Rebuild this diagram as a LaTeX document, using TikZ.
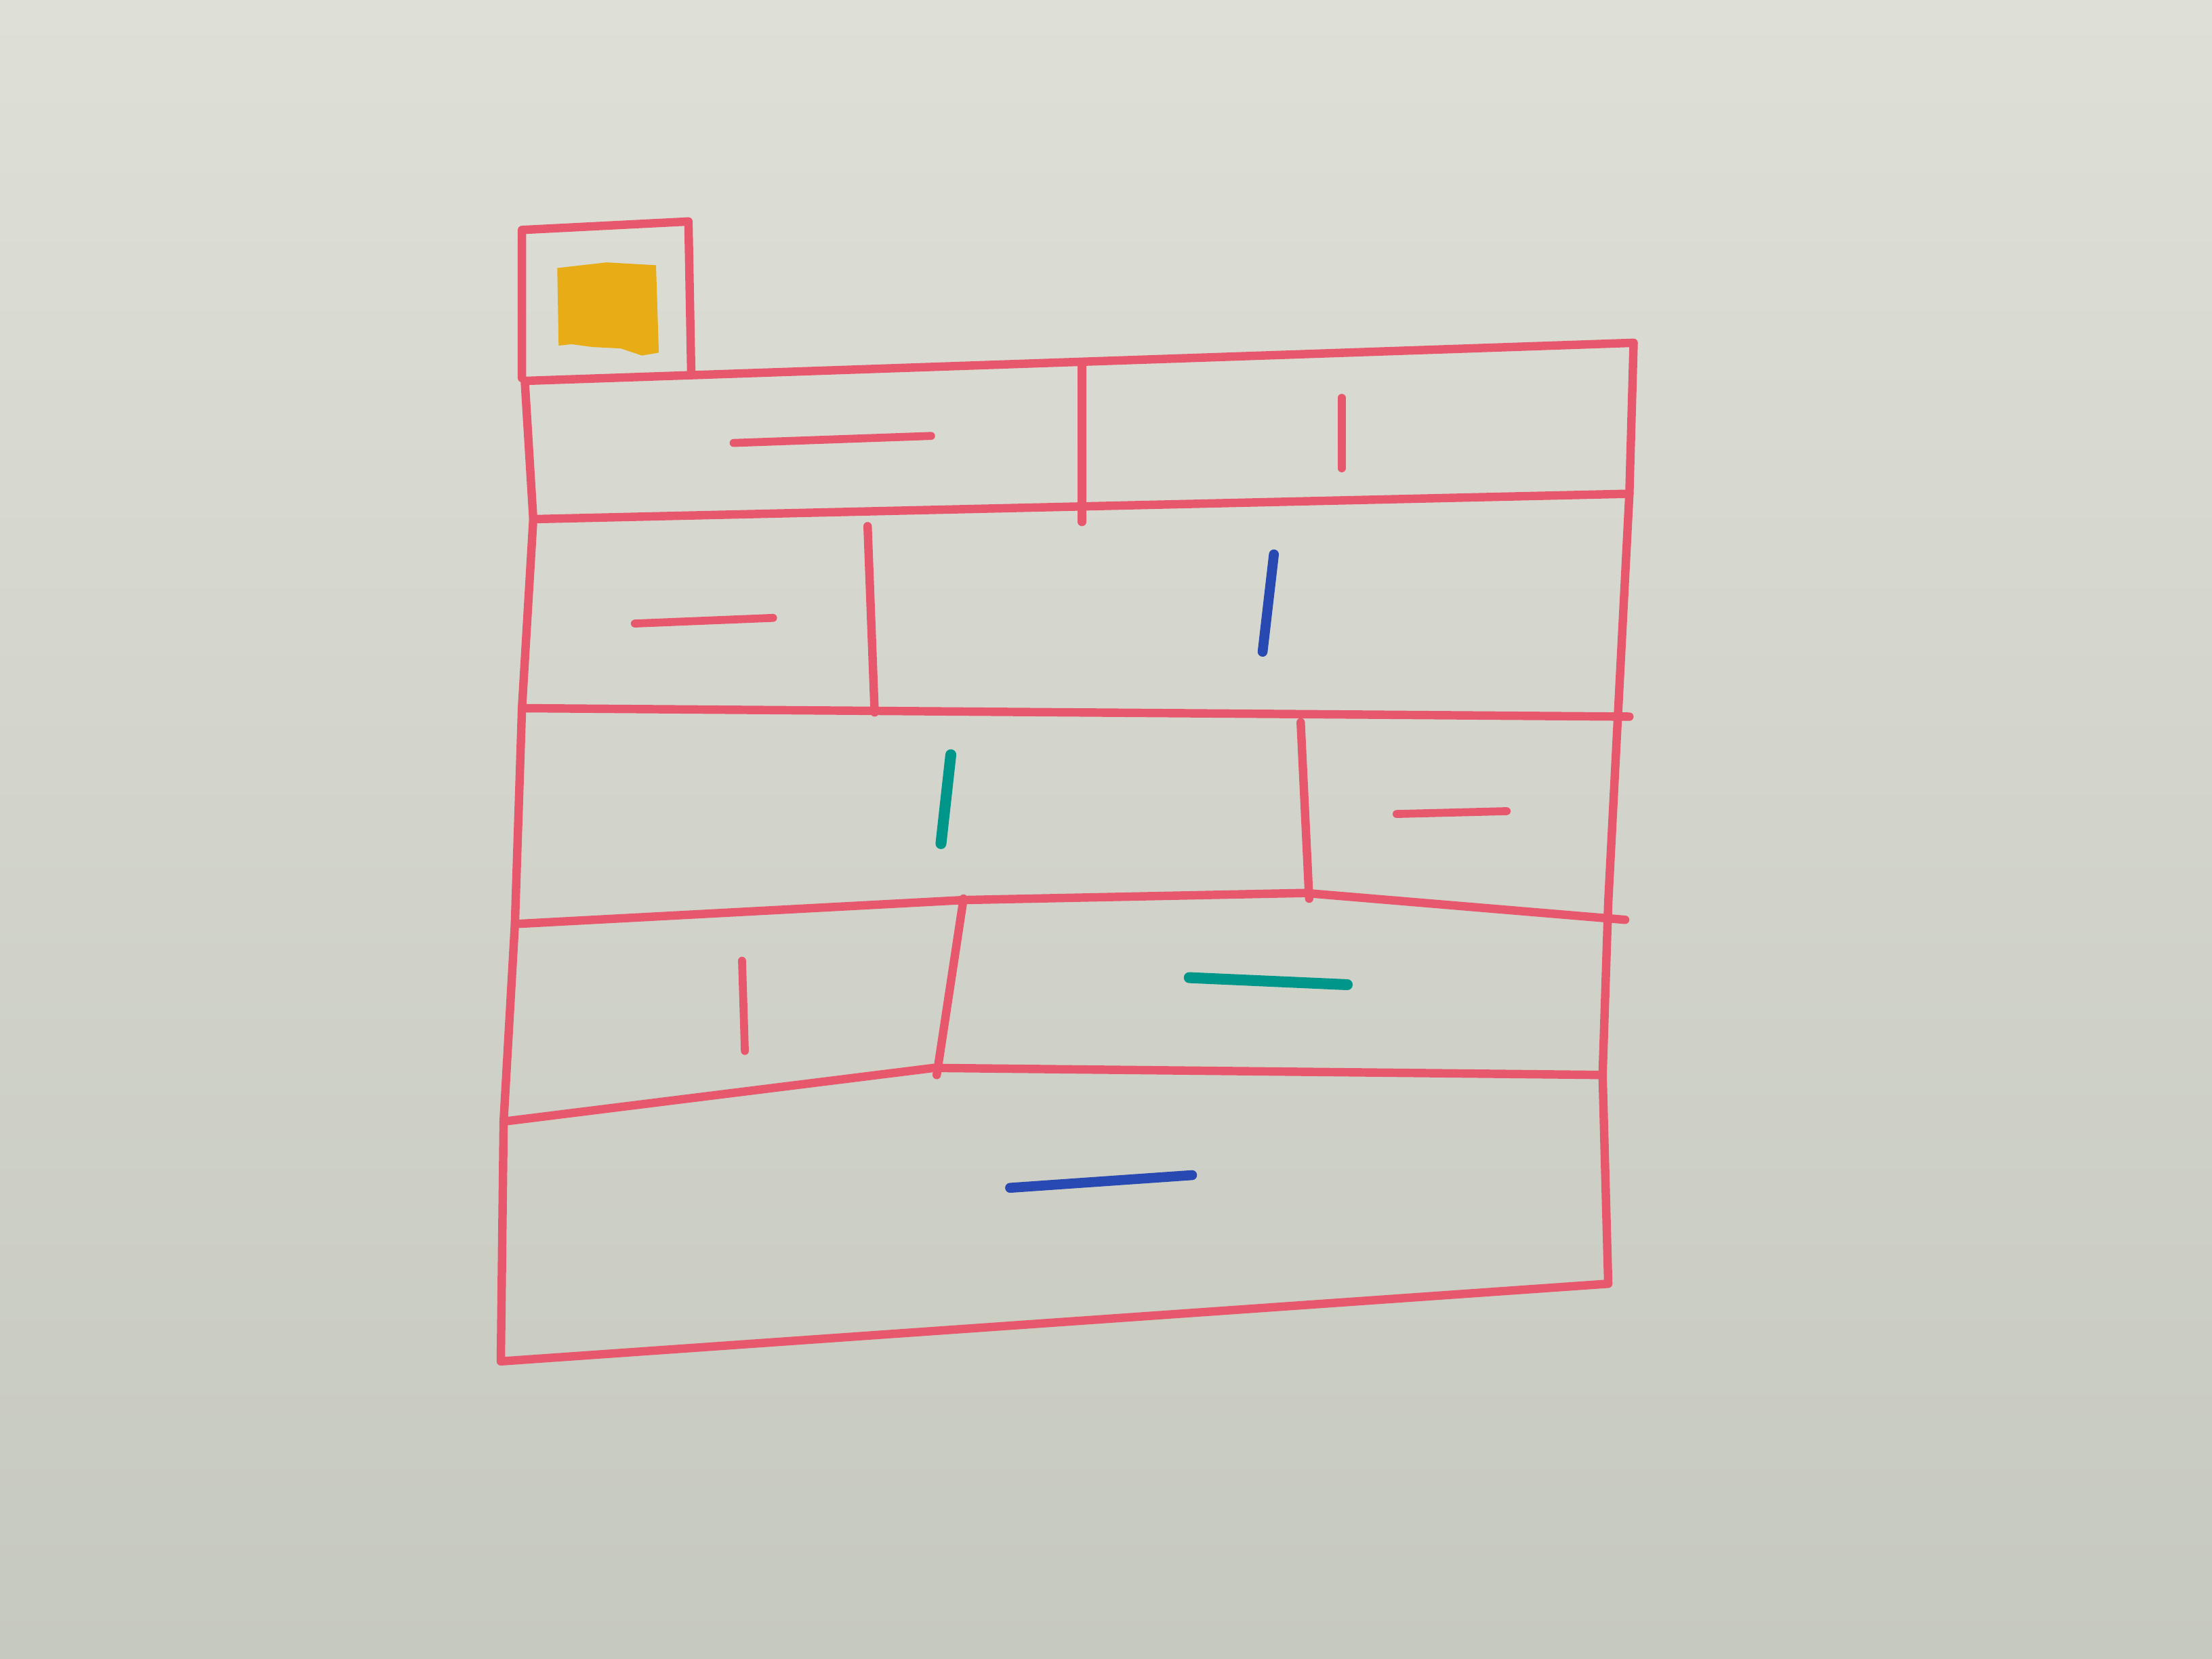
\documentclass[tikz,border=0pt]{standalone}
\usetikzlibrary{calc}

\definecolor{board}{RGB}{210,212,203}
\definecolor{boardtop}{RGB}{222,224,216}
\definecolor{boardlow}{RGB}{198,201,190}
\definecolor{penred}{RGB}{232,88,108}
\definecolor{penyellow}{RGB}{232,172,22}
\definecolor{penteal}{RGB}{0,150,138}
\definecolor{penblue}{RGB}{40,72,178}

\tikzset{
  frame/.style={draw=penred,line width=3.4pt,line cap=round,line join=round},
  mark red/.style={draw=penred,line width=3.2pt,line cap=round},
  mark teal/.style={draw=penteal,line width=4.4pt,line cap=round},
  mark blue/.style={draw=penblue,line width=4pt,line cap=round}
}

\begin{document}
\begin{tikzpicture}[x=0.02cm,y=-0.02cm]
 % whiteboard
 \shade[top color=boardtop,bottom color=boardlow,middle color=board]
   (0,0) rectangle (1568,1176);
 \useasboundingbox (0,0) rectangle (1568,1176);

 % corner box with yellow patch
 \fill[penyellow] (395,190) -- (430,186) -- (465,188) -- (467,250) -- (455,252)
   -- (440,247) -- (420,246) -- (405,244) -- (396,245) -- cycle;
 \draw[frame] (370,268) -- (370,163) -- (488,157) -- (490,265);

 % outer frame
 \coordinate (tl) at (372,270);
 \coordinate (tr) at (1158,243);
 \coordinate (br) at (1140,910);
 \coordinate (bl) at (355,965);
 \draw[frame] (tl) -- (tr)
   -- (1155,350) -- (1140,640) -- (1136,762) -- (br)
   -- (bl) -- (357,795) -- (365,655) -- (370,502) -- (378,368) -- cycle;

 % rows
 \draw[frame] (378,368) -- (1155,350);
 \draw[frame] (370,502) -- (1155,508);
 \draw[frame] (365,655) -- (683,638) -- (925,633) -- (1152,652);
 \draw[frame] (357,795) -- (662,757) -- (1136,762);

 % dividers
 \draw[frame] (767,258) -- (767,370);
 \draw[frame] (615,373) -- (620,505);
 \draw[frame] (922,512) -- (928,637);
 \draw[frame] (683,637) -- (664,762);

 % marks
 \draw[mark red] (520,314) -- (660,309);
 \draw[mark red] (951,282) -- (951,332);
 \draw[mark red] (450,442) -- (548,438);
 \draw[mark blue] (903,393) -- (895,462);
 \draw[mark teal] (674,535) -- (667,598);
 \draw[mark red] (990,577) -- (1068,575);
 \draw[mark red] (526,681) -- (528,745);
 \draw[mark teal] (843,693) -- (955,698);
 \draw[mark blue] (716,842) -- (845,833);
\end{tikzpicture}
\end{document}
